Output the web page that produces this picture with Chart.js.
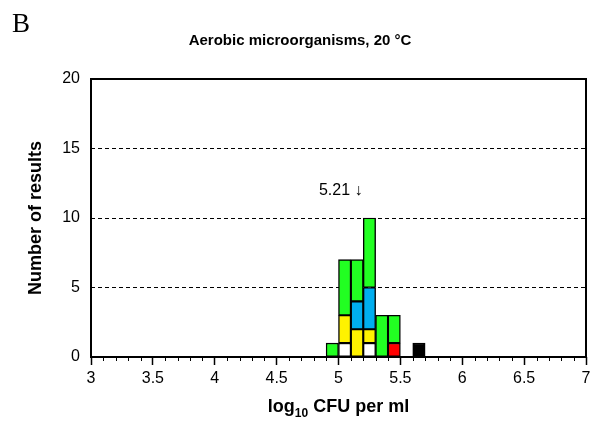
<!DOCTYPE html>
<html>
<head>
<meta charset="utf-8">
<script src="https://cdn.jsdelivr.net/npm/chart.js@4/dist/chart.umd.min.js"></script>
<style>
  html, body { margin: 0; padding: 0; background: #ffffff; }
  #wrap { width: 601px; height: 421px; }
</style>
</head>
<body>
<div id="wrap"><canvas id="chart"></canvas></div>
<script>
// Histogram bins (lower edge, log10 CFU per ml) and result counts per group
const binLow = [4.9, 5.0, 5.1, 5.2, 5.3, 5.4, 5.6];
const binWidth = 0.1;
const whiteCounts  = [0, 1, 0, 1, 0, 0, 0];
const redCounts    = [0, 0, 0, 0, 0, 1, 0];
const blackCounts  = [0, 0, 0, 0, 0, 0, 1];
const yellowCounts = [0, 2, 2, 1, 0, 0, 0];
const blueCounts   = [0, 0, 2, 3, 0, 0, 0];
const greenCounts  = [1, 4, 3, 5, 3, 2, 0];

const xTicks = [3, 3.5, 4, 4.5, 5, 5.5, 6, 6.5, 7];
const yTicks = [0, 5, 10, 15, 20];
const medianValue = 5.21;
const medianLabelLevel = 12;

const SANS = "'Liberation Sans', Arial, Helvetica, sans-serif";
const SERIF = "'Liberation Serif', 'Times New Roman', serif";

function toPoints(counts) {
  const pts = [];
  counts.forEach((c, i) => {
    if (c > 0) pts.push({ x: +(binLow[i] + binWidth / 2).toFixed(2), y: c });
  });
  return pts;
}

function series(counts, color) {
  return {
    data: toPoints(counts),
    backgroundColor: color,
    borderColor: '#000000',
    borderWidth: 1.4,
    borderSkipped: false,
    categoryPercentage: 1,
    barPercentage: 1
  };
}

const decorations = {
  id: 'decorations',
  afterDraw(chart) {
    const { ctx, chartArea: a, scales } = chart;
    const xs = scales.x, ys = scales.y;
    ctx.save();

    // plot frame
    ctx.strokeStyle = '#000';
    ctx.lineWidth = 2;
    ctx.strokeRect(a.left, a.top, a.right - a.left, a.bottom - a.top);

    // minor ticks every 0.1
    ctx.lineWidth = 1;
    ctx.beginPath();
    for (let k = 30; k <= 70; k++) {
      if (k % 5 === 0) continue;
      const px = Math.round(xs.getPixelForValue(k / 10)) + 0.5;
      ctx.moveTo(px, a.bottom);
      ctx.lineTo(px, a.bottom + 4);
    }
    ctx.stroke();

    // median marker
    ctx.fillStyle = '#000';
    ctx.font = '16px ' + SANS;
    ctx.textAlign = 'right';
    ctx.textBaseline = 'middle';
    ctx.fillText('5.21 \u2193', xs.getPixelForValue(medianValue) - 2, ys.getPixelForValue(medianLabelLevel));

    // x axis title with subscript
    const main1 = 'log', sub = '10', main2 = ' CFU per ml';
    const fMain = 'bold 18px ' + SANS, fSub = 'bold 12px ' + SANS;
    ctx.font = fMain; const w1 = ctx.measureText(main1).width, w3 = ctx.measureText(main2).width;
    ctx.font = fSub; const w2 = ctx.measureText(sub).width;
    const total = w1 + w2 + w3;
    const x0 = (a.left + a.right) / 2 - total / 2;
    const base = 412;
    ctx.textAlign = 'left';
    ctx.textBaseline = 'alphabetic';
    ctx.font = fMain; ctx.fillText(main1, x0, base);
    ctx.font = fSub; ctx.fillText(sub, x0 + w1, base + 5);
    ctx.font = fMain; ctx.fillText(main2, x0 + w1 + w2, base);

    // panel letter
    ctx.font = '27px ' + SERIF;
    ctx.fillText('B', 12, 32);

    ctx.restore();
  }
};

new Chart(document.getElementById('chart'), {
  type: 'bar',
  data: {
    datasets: [
      series(whiteCounts, '#FFFFFF'),
      series(redCounts, '#FF0000'),
      series(blackCounts, '#000000'),
      series(yellowCounts, '#FFF200'),
      series(blueCounts, '#00AEEF'),
      series(greenCounts, '#22FF22')
    ]
  },
  options: {
    responsive: true,
    maintainAspectRatio: false,
    animation: false,
    devicePixelRatio: 1,
    layout: { padding: { left: 14, right: 15, top: 0, bottom: 0 } },
    plugins: {
      legend: { display: false },
      tooltip: { enabled: false },
      title: {
        display: true,
        text: 'Aerobic microorganisms, 20 \u00B0C',
        color: '#000',
        font: { family: SANS, size: 15, weight: 'bold' },
        padding: { top: 32, bottom: 29 }
      }
    },
    scales: {
      x: {
        type: 'linear',
        stacked: true,
        min: 3,
        max: 7,
        offset: false,
        afterBuildTicks: s => { s.ticks = xTicks.map(v => ({ value: v })); },
        afterFit: s => { s.height = 64; },
        ticks: {
          color: '#000',
          font: { family: SANS, size: 16 },
          padding: 4,
          maxRotation: 0,
          autoSkip: false,
          callback: v => String(+(+v).toFixed(1))
        },
        grid: {
          offset: false,
          drawOnChartArea: false,
          drawTicks: true,
          tickLength: 8,
          tickColor: '#000',
          tickWidth: 1.5
        },
        border: { display: false }
      },
      y: {
        stacked: true,
        min: 0,
        max: 20,
        afterBuildTicks: s => { s.ticks = yTicks.map(v => ({ value: v })); },
        afterFit: s => { s.width = 77; },
        ticks: {
          color: '#000',
          font: { family: SANS, size: 16 },
          padding: 11
        },
        grid: {
          drawTicks: false,
          lineWidth: 1,
          color: c => (c.tick && c.tick.value > 0 && c.tick.value < 20) ? '#000' : 'rgba(0,0,0,0)'
        },
        border: { display: false, dash: [4, 3] },
        title: {
          display: true,
          text: 'Number of results',
          color: '#000',
          font: { family: SANS, size: 18, weight: 'bold' },
          padding: { top: 11, bottom: 0 }
        }
      }
    }
  },
  plugins: [decorations]
});
</script>
</body>
</html>
